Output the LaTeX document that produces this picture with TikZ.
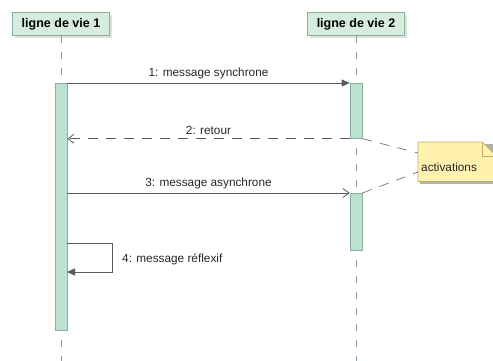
\documentclass[tikz,border=0pt]{standalone}
\usepackage{fontspec}
\setmainfont{Liberation Sans}
\usetikzlibrary{arrows.meta,shadows}
\definecolor{lvfill}{HTML}{D6ECDF}
\definecolor{actfill}{HTML}{BCE1CE}
\definecolor{lvborder}{HTML}{86B29A}
\definecolor{msgline}{HTML}{5A5A5A}
\definecolor{notefill}{HTML}{FFF1AE}
\definecolor{noteborder}{HTML}{C4AE68}
\tikzset{
	lifeline/.style={draw=lvborder, fill=lvfill, minimum width=97pt, minimum height=23pt, inner sep=0,
		font=\fontsize{12.5}{14}\selectfont\bfseries, drop shadow={shadow xshift=2pt, shadow yshift=-2pt, fill=black!25}},
	activation/.style={draw=lvborder, fill=actfill, minimum width=12pt, inner sep=0, line width=0.7pt},
	lifedash/.style={draw=lvborder!70!gray, line width=0.7pt, dash pattern=on 7pt off 9pt},
	msg/.style={draw=msgline, line width=0.8pt},
	msglabel/.style={font=\fontsize{11.8}{13}\selectfont, text=black!85, inner sep=1pt}
}
\begin{document}
\begin{tikzpicture}[x=1pt, y=-1pt]
	\useasboundingbox (0,0) rectangle (493,360);
	% lignes de vie
	\node[lifeline] (lv1) at (61,24) {ligne de vie 1};
	\node[lifeline] (lv2) at (356,24) {ligne de vie 2};
	\coordinate (end1) at (61,362);
	\coordinate (end2) at (356,362);
	\draw[lifedash] (lv1.south) -- (end1);
	\draw[lifedash] (lv2.south) -- (end2);
	% activations
	\node[activation, minimum height=247pt, anchor=north] (act1) at (61,83) {};
	\node[activation, minimum height=55pt, anchor=north] (act2a) at (356,83) {};
	\node[activation, minimum height=57pt, anchor=north] (act2b) at (356,193) {};
	% messages
	\draw[msg, -{Triangle[length=8pt, width=7pt]}] (act1.north east) -- (act2a.north west)
		node[msglabel, midway, above=3pt] (m1) {1: message synchrone};
	\draw[msg, dash pattern=on 10pt off 8pt, -{Straight Barb[length=6pt, width=9pt]}] (act2a.south west) -- (act1.east |- act2a.south)
		node[msglabel, midway, above=3pt] (m2) {2: retour};
	\coordinate (m3start) at (act1.east |- act2b.north);
	\draw[msg, -{Straight Barb[length=6pt, width=9pt]}] (m3start) -- (act2b.north west)
		node[msglabel, midway, above=3pt] (m3) {3: message asynchrone};
	\coordinate (m4start) at (67,243);
	\coordinate (m4end) at (67,272);
	\draw[msg, -{Triangle[length=8pt, width=7pt]}] (m4start) -- (112,243) -- (112,272) -- (m4end);
	\node[msglabel, anchor=west] (m4) at (121,259) {4: message réflexif};
	% note
	\fill[black!30] (420,144) rectangle (497,184);
	\node[minimum width=78pt, minimum height=39pt, inner sep=0, anchor=north west] (note) at (418,142) {};
	\draw[draw=noteborder, fill=notefill, line width=0.7pt] (note.north west) -- ([xshift=-14pt]note.north east)
		-- ([yshift=-14pt]note.north east) -- (note.south east) -- (note.south west) -- cycle;
	\draw[draw=noteborder, line width=0.7pt] ([xshift=-14pt]note.north east) -- ([xshift=-14pt, yshift=-14pt]note.north east)
		-- ([yshift=-14pt]note.north east);
	\node[msglabel, anchor=west] (notetext) at (420,167) {activations};
	\coordinate (n1) at (418,153);
	\coordinate (n2) at (418,172);
	\draw[lifedash, draw=msgline!85, dash pattern=on 10pt off 8pt] (act2a.south east) -- (n1);
	\draw[lifedash, draw=msgline!85, dash pattern=on 10pt off 8pt] (act2b.north east) -- (n2);
\end{tikzpicture}
\end{document}
